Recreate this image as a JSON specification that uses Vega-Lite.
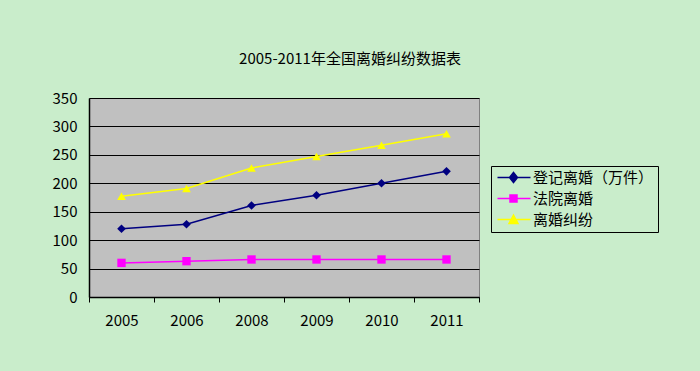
{
  "$schema": "https://vega.github.io/schema/vega-lite/v6.json",
  "autosize": "none",
  "width": 390,
  "height": 199,
  "padding": {"left": 89, "top": 98, "right": 221, "bottom": 74},
  "background": "#C9EDCB",
  "title": {
    "text": "2005-2011年全国离婚纠纷数据表",
    "font": "Noto Sans CJK SC",
    "fontSize": 15,
    "fontWeight": "normal",
    "color": "#000000",
    "anchor": "middle",
    "dx": 66,
    "offset": 24
  },
  "config": {
    "view": {"fill": "#C0C0C0", "stroke": "#808080", "strokeWidth": 1},
    "font": "Noto Sans CJK SC"
  },
  "data": {
    "values": [
      {"year": "2005", "series": "登记离婚（万件）", "value": 120},
      {"year": "2006", "series": "登记离婚（万件）", "value": 128},
      {"year": "2008", "series": "登记离婚（万件）", "value": 161},
      {"year": "2009", "series": "登记离婚（万件）", "value": 179},
      {"year": "2010", "series": "登记离婚（万件）", "value": 200},
      {"year": "2011", "series": "登记离婚（万件）", "value": 221},
      {"year": "2005", "series": "法院离婚", "value": 60},
      {"year": "2006", "series": "法院离婚", "value": 63},
      {"year": "2008", "series": "法院离婚", "value": 66},
      {"year": "2009", "series": "法院离婚", "value": 66},
      {"year": "2010", "series": "法院离婚", "value": 66},
      {"year": "2011", "series": "法院离婚", "value": 66},
      {"year": "2005", "series": "离婚纠纷", "value": 177},
      {"year": "2006", "series": "离婚纠纷", "value": 191},
      {"year": "2008", "series": "离婚纠纷", "value": 227},
      {"year": "2009", "series": "离婚纠纷", "value": 247},
      {"year": "2010", "series": "离婚纠纷", "value": 267},
      {"year": "2011", "series": "离婚纠纷", "value": 287}
    ]
  },
  "encoding": {
    "x": {
      "field": "year",
      "type": "ordinal",
      "scale": {"type": "band", "paddingInner": 0, "paddingOuter": 0},
      "axis": {
        "title": null,
        "labelAngle": 0,
        "labelFontSize": 15,
        "labelColor": "#000000",
        "labelPadding": 11,
        "tickBand": "extent",
        "tickColor": "#000000",
        "tickSize": 5,
        "domainColor": "#000000",
        "domainWidth": 1.5,
        "grid": false
      }
    },
    "y": {
      "field": "value",
      "type": "quantitative",
      "scale": {"domain": [0, 350], "nice": false},
      "axis": {
        "title": null,
        "values": [0, 50, 100, 150, 200, 250, 300, 350],
        "labelFontSize": 15,
        "labelColor": "#000000",
        "labelPadding": 12,
        "ticks": false,
        "domainColor": "#000000",
        "domainWidth": 1.5,
        "grid": true,
        "gridColor": "#000000",
        "gridWidth": 1.2
      }
    },
    "color": {
      "field": "series",
      "type": "nominal",
      "scale": {
        "domain": ["登记离婚（万件）", "法院离婚", "离婚纠纷"],
        "range": ["#000080", "#FF00FF", "#FFFF00"]
      },
      "legend": {
        "title": null,
        "orient": "none",
        "legendX": 402,
        "legendY": 68,
        "strokeColor": "#000000",
        "padding": 4,
        "labelFontSize": 15,
        "labelColor": "#000000",
        "labelOffset": 23,
        "rowPadding": 5,
        "symbolSize": 100,
        "symbolStrokeWidth": 1.5,
        "encode": {
          "symbols": {
            "update": {
              "shape": {"signal": "datum.value === '登记离婚（万件）' ? 'M-1,0H5.6M2.2,-1L3,0L2.2,1L1.4,0Z' : datum.value === '法院离婚' ? 'M-1,0H5.6M1.5,-0.7H2.9V0.7H1.5Z' : 'M-1,0H5.6M2.2,-0.9L3.1,0.8H1.3Z'"},
              "stroke": {"signal": "scale('color', datum.value)"},
              "fill": {"signal": "scale('color', datum.value)"},
              "strokeWidth": {"value": 1.5},
              "opacity": {"value": 1}
            }
          }
        }
      }
    }
  },
  "layer": [
    {"mark": {"type": "line", "strokeWidth": 1.5}},
    {
      "transform": [{"filter": "datum.series === '登记离婚（万件）'"}],
      "mark": {"type": "point", "shape": "diamond", "size": 75, "filled": true, "opacity": 1}
    },
    {
      "transform": [{"filter": "datum.series === '法院离婚'"}],
      "mark": {"type": "point", "shape": "square", "size": 70, "filled": true, "opacity": 1}
    },
    {
      "transform": [{"filter": "datum.series === '离婚纠纷'"}],
      "mark": {"type": "point", "shape": "triangle-up", "size": 75, "filled": true, "opacity": 1}
    }
  ]
}
